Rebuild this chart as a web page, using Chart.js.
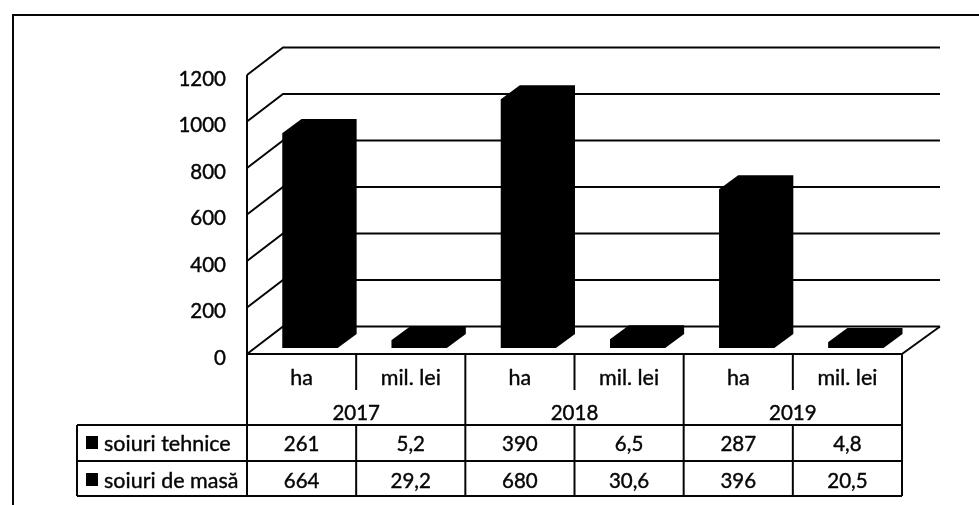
<!DOCTYPE html>
<html>
<head>
<meta charset="utf-8">
<script src="https://cdn.jsdelivr.net/npm/chart.js@4"></script>
<style>
  html, body { margin: 0; padding: 0; background: #fff; }
  #wrap { width: 979px; height: 505px; }
</style>
</head>
<body>
<div id="wrap"><canvas id="chart" width="979" height="505"></canvas></div>
<script>
// Data
const years = ['2017', '2018', '2019'];
const units = ['ha', 'mil. lei', 'ha', 'mil. lei', 'ha', 'mil. lei'];
const seriesNames = ['soiuri tehnice', 'soiuri de masă'];
const tehnice = [261, 5.2, 390, 6.5, 287, 4.8];
const deMasa = [664, 29.2, 680, 30.6, 396, 20.5];

const ink = '#050505';
const font = '"Lato", "Open Sans", sans-serif';
const textSize = 21.5;
const digitSize = 20.5;
const textStroke = 0.4; // the scan makes the text look heavier than the regular weight

// Depth of the fake 3D box and of the bars, in pixels
const wallDx = 36, wallDy = 27.5;
const barDx = 19, barDy = 14;
const barShiftX = 8.5, barShiftY = 6;
// tick labels sit a little under their lines, so the box is drawn this much above the scale
const drop = 4;

function line(ctx, pts, width) {
    ctx.beginPath();
    ctx.lineWidth = width || 2;
    ctx.strokeStyle = ink;
    pts.forEach((p, i) => i ? ctx.lineTo(p[0], p[1]) : ctx.moveTo(p[0], p[1]));
    ctx.stroke();
}

function label(ctx, text, x, y) {
    ctx.lineWidth = textStroke;
    ctx.strokeStyle = ink;
    ctx.strokeText(text, x, y);
    ctx.fillText(text, x, y);
}

function fmt(v) {
    return String(v).replace('.', ',');
}

// Walls and grid behind the bars, bars pushed into the middle of the floor
const box3d = {
    id: 'box3d',
    beforeDatasetsDraw(chart) {
        const ctx = chart.ctx, y = chart.scales.y, a = chart.chartArea;
        const top = a.top - drop, bottom = a.bottom - drop;
        ctx.save();
        // outer frame, cut by the page edge on the right and at the bottom
        line(ctx, [[13, 505], [13, 15], [979, 15]]);
        y.ticks.forEach(t => {
            const py = y.getPixelForValue(t.value) - drop;
            line(ctx, [[a.left, py], [a.left + wallDx, py - wallDy], [a.right + wallDx + 2, py - wallDy]]);
        });
        line(ctx, [[a.left, top], [a.left, bottom]]);
        line(ctx, [[a.right, bottom], [a.right + wallDx + 2, bottom - wallDy]]);
        ctx.restore();
        ctx.save();
        ctx.translate(barShiftX, -barShiftY - drop);
    },
    afterDatasetsDraw(chart) {
        const ctx = chart.ctx;
        // side and top of each whole stack, front included so no seam shows
        const bottoms = chart.getDatasetMeta(0).data;
        const tops = chart.getDatasetMeta(1).data;
        ctx.fillStyle = 'black';
        tops.forEach((bar, i) => {
            const p = bar.getProps(['x', 'y', 'width']);
            const base = bottoms[i].getProps(['base']).base;
            const l = p.x - p.width / 2, r = p.x + p.width / 2;
            ctx.beginPath();
            ctx.moveTo(l, p.y);
            ctx.lineTo(l + barDx, p.y - barDy);
            ctx.lineTo(r + barDx, p.y - barDy);
            ctx.lineTo(r + barDx, base - barDy);
            ctx.lineTo(r, base);
            ctx.lineTo(l, base);
            ctx.closePath();
            ctx.fill();
        });
        ctx.restore();
    },
    afterDraw(chart) {
        const ctx = chart.ctx, x = chart.scales.x, a = chart.chartArea;
        const cell = (a.right - a.left) / units.length;
        const bottom = a.bottom - drop;
        const rows = [425, 461, 496], tableLeft = 77;
        ctx.save();
        // table lines
        line(ctx, [[a.left, bottom], [a.right, bottom]]);
        rows.forEach(r => line(ctx, [[tableLeft, r], [a.right, r]]));
        line(ctx, [[tableLeft, rows[0]], [tableLeft, rows[2]]]);
        for (let i = 0; i <= units.length; i++) {
            const px = a.left + cell * i;
            if (i % 2 === 0) {
                line(ctx, [[px, bottom], [px, rows[2]]]);
            } else {
                line(ctx, [[px, bottom], [px, 390]]);
                line(ctx, [[px, rows[0]], [px, rows[2]]]);
            }
        }
        // table text
        ctx.fillStyle = ink;
        ctx.font = digitSize + 'px ' + font;
        ctx.textBaseline = 'middle';
        ctx.textAlign = 'center';
        years.forEach((year, i) => label(ctx, year, a.left + cell * (2 * i + 1), 413));
        [tehnice, deMasa].forEach((vals, r) => {
            const py = r === 0 ? 444 : 481;
            vals.forEach((v, i) => label(ctx, fmt(v), x.getPixelForTick(i), py));
        });
        ctx.font = textSize + 'px ' + font;
        ctx.textAlign = 'left';
        seriesNames.forEach((name, r) => {
            const py = r === 0 ? 444 : 481;
            ctx.fillStyle = 'black';
            ctx.fillRect(86, py - 8, 12, 13);
            ctx.fillStyle = ink;
            label(ctx, name, 104, py);
        });
        ctx.restore();
    }
};

new Chart(document.getElementById('chart').getContext('2d'), {
    type: 'bar',
    plugins: [box3d],
    data: {
        labels: units,
        datasets: [
            { label: seriesNames[0], data: tehnice, backgroundColor: 'black', borderWidth: 0, clip: false },
            { label: seriesNames[1], data: deMasa, backgroundColor: 'black', borderWidth: 0, clip: false }
        ]
    },
    options: {
        responsive: false,
        animation: false,
        layout: { padding: { top: 75 + drop, right: 77, bottom: 0, left: 0 } },
        categoryPercentage: 1,
        barPercentage: 0.505,
        plugins: { legend: { display: false }, tooltip: { enabled: false } },
        scales: {
            x: {
                stacked: true,
                grid: { display: false, drawTicks: false },
                border: { display: false },
                ticks: { color: ink, font: { family: font, size: textSize }, padding: 7, maxRotation: 0, autoSkip: false, textStrokeColor: ink, textStrokeWidth: textStroke },
                afterFit: s => { s.height = 151 - drop; }
            },
            y: {
                stacked: true,
                min: 0,
                max: 1200,
                grid: { display: false, drawTicks: false },
                border: { display: false },
                ticks: { stepSize: 200, color: ink, font: { family: font, size: digitSize }, padding: 21, textStrokeColor: ink, textStrokeWidth: textStroke, callback: v => String(v) },
                afterFit: s => { s.width = 247; }
            }
        }
    }
});
</script>
</body>
</html>
